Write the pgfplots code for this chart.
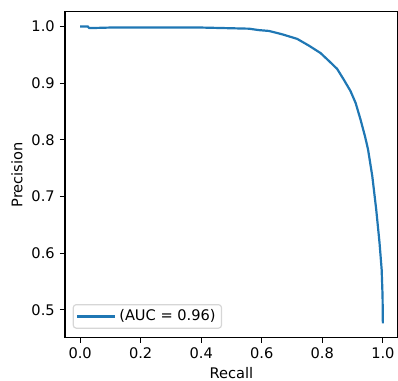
\documentclass[border=0pt]{standalone}
\usepackage{fontspec}
\setmainfont{DejaVu Sans}
\usepackage{pgfplots}
\pgfplotsset{compat=1.18}
\definecolor{mplblue}{HTML}{1F77B4}
\definecolor{legframe}{HTML}{D6D6D6}
\begin{document}
\begin{tikzpicture}
\begin{axis}[
  name=ax,
  scale only axis,
  width=228pt, height=223.3pt,
  xmin=-0.05, xmax=1.05, ymin=0.4505, ymax=1.026,
  xtick={0,0.2,0.4,0.6,0.8,1.0},
  ytick={0.5,0.6,0.7,0.8,0.9,1.0},
  xticklabel style={/pgf/number format/.cd, fixed, fixed zerofill, precision=1},
  yticklabel style={/pgf/number format/.cd, fixed, fixed zerofill, precision=1},
  /pgf/number format/assume math mode=true,
  tick align=outside, tick pos=left,
  major tick length=3.5pt,
  every tick/.style={black, line width=0.8pt},
  axis line style={line width=0.8pt},
  font=\fontsize{10}{12}\selectfont,
  tick label style={font=\fontsize{10}{12}\selectfont},
  xlabel={Recall}, ylabel={Precision},
  label style={font=\fontsize{10}{12}\selectfont},
  xlabel style={at={(axis description cs:0.5,-0.108)}, anchor=center, inner sep=1pt},
  ylabel style={at={(axis description cs:-0.1443,0.5)}, anchor=center},
  legend style={draw=legframe, rounded corners=2pt, line width=0.8pt, at={(axis description cs:0.0232,0.0278)}, anchor=south west, inner xsep=2pt, inner ysep=1.5pt, font=\fontsize{10}{12}\selectfont},
  legend cell align=left,
  legend image code/.code={\path (0pt,0pt) -- (26pt,0pt); \draw[#1, line width=1.5pt] (0pt,0pt) -- (21pt,0pt);},
]
\addplot[mplblue, line width=1.5pt] coordinates {
(0.000,1.000) (0.025,1.000) (0.030,0.997) (0.100,0.998) (0.200,0.998) (0.300,0.998) (0.400,0.998) (0.480,0.997)
(0.558,0.996) (0.590,0.9935) (0.624,0.992) (0.668,0.986) (0.717,0.978) (0.756,0.966)
(0.794,0.953) (0.822,0.939) (0.849,0.925) (0.871,0.906) (0.893,0.886) (0.910,0.865)
(0.926,0.836) (0.941,0.806) (0.951,0.783) (0.965,0.736) (0.978,0.677) (0.989,0.618)
(0.996,0.571) (0.999,0.524) (1.000,0.476)
};
\addlegendentry{(AUC = 0.96)}
\end{axis}
\pgfresetboundingbox
\path ([xshift=-44.5pt,yshift=-29.5pt]ax.south west) rectangle ([yshift=8pt]ax.north east);
\end{tikzpicture}
\end{document}
